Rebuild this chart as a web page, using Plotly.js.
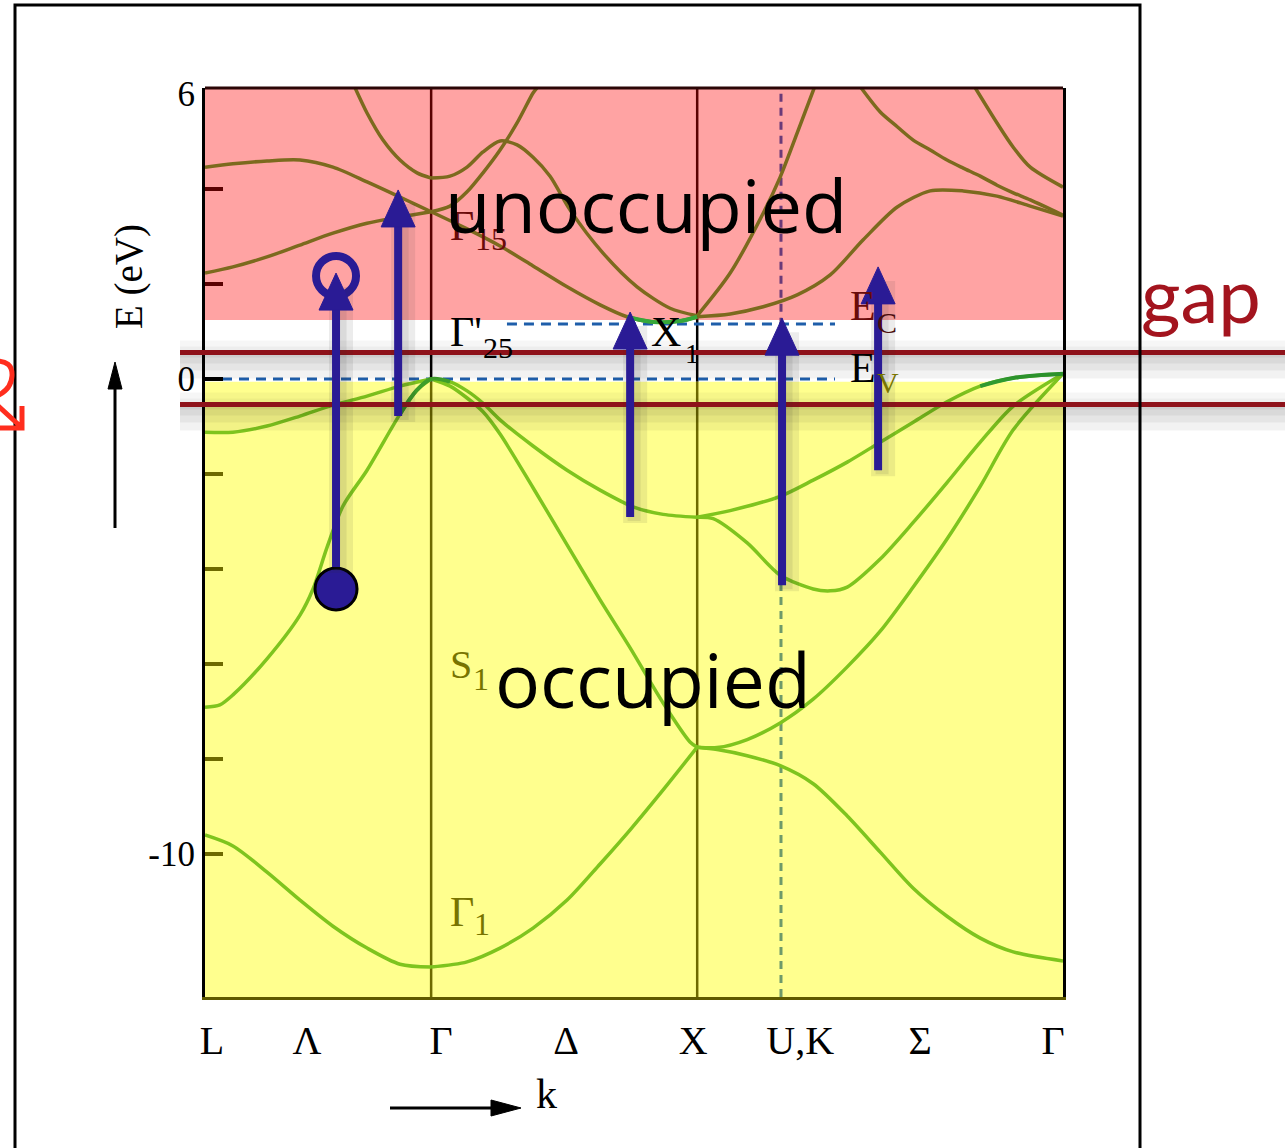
<!DOCTYPE html>
<html><head><meta charset="utf-8">
<script src="https://cdn.plot.ly/plotly-3.0.1.min.js"></script>
<style>html,body{margin:0;padding:0;background:#fff}#chart{width:1285px;height:1148px}</style>
</head><body><div id="chart"></div>
<script>
// ---- data (k along L-Γ-X-U,K-Γ path, Γ-X = 1 ; E in eV) ----
const kRange = [0, 3.225];
const eRange = [-13.01, 6.126];
const symBreaks = [0.85, 1.85];          // Γ, X (kinks)
const symSolid = [0.85, 1.85];           // solid vertical lines Γ, X
const symDashed = [2.165];               // U,K
const tickK = [0.026, 0.383, 0.887, 1.357, 1.835, 2.237, 2.688, 3.188];
const tickLabels = ['L', 'Λ', 'Γ', 'Δ', 'X', 'U,K', 'Σ', 'Γ'];
const yLabelVals = [6, 0, -10];
const yTicksLow = [-2, -4, -6, -8, -10];
const yTicksHigh = [4, 2];
const yTicksZero = [0];
const eV = 0, eC = 1.16;
const evDashK = [0, 2.368];
const ecDashK = [1.135, 2.368];
const condRegionFrom = 1.242, valRegionTo = -0.057;
const gapLines = [0.558, -0.537];

// conduction bands
const cbA_k = [0, 0.105, 0.233, 0.357, 0.481, 0.609, 0.733, 0.85, 0.985, 1.109, 1.233, 1.361, 1.485, 1.586, 1.684, 1.786, 1.85, 1.974, 2.098, 2.226, 2.35, 2.474, 2.602, 2.726, 2.85, 2.977, 3.102, 3.225];
const cbA_E = [2.23, 2.36, 2.57, 2.82, 3.07, 3.28, 3.41, 3.52, 3.16, 2.80, 2.38, 1.94, 1.56, 1.31, 1.20, 1.22, 1.31, 1.37, 1.52, 1.77, 2.19, 2.93, 3.62, 3.96, 3.96, 3.85, 3.64, 3.43];
const cbB_k = [0.564, 0.609, 0.669, 0.733, 0.797, 0.85, 0.921, 0.985, 1.045, 1.109, 1.173, 1.233, 1.297, 1.372, 1.496, 1.624, 1.748, 1.85, 1.974, 2.098, 2.162, 2.226, 2.29];
const cbB_E = [6.13, 5.60, 5.03, 4.61, 4.34, 4.23, 4.27, 4.46, 4.78, 5.01, 4.93, 4.67, 4.27, 3.56, 2.65, 1.94, 1.49, 1.33, 2.23, 3.49, 4.25, 5.18, 6.13];
const cbC_k = [0, 0.105, 0.233, 0.357, 0.481, 0.609, 0.733, 0.797, 0.85, 0.921, 0.985, 1.045, 1.109, 1.173, 1.233, 1.248];
const cbC_E = [4.46, 4.53, 4.59, 4.61, 4.46, 4.15, 3.83, 3.66, 3.52, 3.64, 3.94, 4.34, 4.82, 5.39, 6.02, 6.13];
const cbD_k = [2.466, 2.538, 2.602, 2.662, 2.726, 2.789, 2.85, 2.914, 2.977, 3.038, 3.102, 3.225];
const cbD_E = [6.13, 5.62, 5.31, 5.03, 4.82, 4.61, 4.44, 4.27, 4.08, 3.92, 3.77, 3.45];
const cbE_k = [2.895, 2.977, 3.038, 3.102, 3.225];
const cbE_E = [6.13, 5.39, 4.88, 4.46, 4.04];

// valence bands
const vbA_k = [0, 0.105, 0.233, 0.357, 0.481, 0.609, 0.733, 0.85, 0.985, 1.109, 1.233, 1.361, 1.485, 1.598, 1.722, 1.85, 1.925, 2.038, 2.162, 2.286, 2.414, 2.538, 2.662, 2.789, 2.914, 3.038, 3.225];
const vbA_E = [-9.60, -9.83, -10.38, -10.97, -11.52, -11.98, -12.32, -12.38, -12.27, -11.98, -11.56, -10.97, -10.21, -9.49, -8.65, -7.75, -7.80, -7.93, -8.14, -8.52, -9.20, -9.96, -10.72, -11.31, -11.77, -12.06, -12.25];
const vbB_k = [0, 0.056, 0.105, 0.233, 0.357, 0.406, 0.459, 0.519, 0.609, 0.733, 0.797, 0.85, 0.921, 0.985, 1.045, 1.109, 1.233, 1.361, 1.485, 1.598, 1.722, 1.823, 1.85, 1.925, 2.038, 2.162, 2.286, 2.414, 2.538, 2.662, 2.789, 2.914, 3.038, 3.225];
const vbB_E = [-6.91, -6.86, -6.65, -5.89, -4.97, -4.42, -3.54, -2.67, -1.92, -0.74, -0.23, 0, -0.15, -0.40, -0.69, -1.16, -2.29, -3.49, -4.65, -5.66, -6.82, -7.64, -7.75, -7.76, -7.59, -7.24, -6.74, -6.06, -5.31, -4.38, -3.37, -2.26, -1.07, 0.11];
const vbC_k = [0, 0.105, 0.233, 0.357, 0.481, 0.609, 0.733, 0.85, 0.921, 0.985, 1.045, 1.109, 1.233, 1.361, 1.485, 1.609, 1.722, 1.85, 1.91, 2.038, 2.162, 2.286, 2.35, 2.414, 2.538, 2.662, 2.789, 2.914, 3.038, 3.225];
const vbC_E = [-1.12, -1.12, -0.99, -0.78, -0.55, -0.36, -0.15, 0, -0.06, -0.25, -0.51, -0.86, -1.41, -1.92, -2.34, -2.69, -2.85, -2.91, -2.94, -3.45, -4.13, -4.42, -4.46, -4.38, -3.79, -3.02, -2.18, -1.33, -0.57, 0.11];
const vbD_k = [1.85, 1.974, 2.162, 2.286, 2.414, 2.538, 2.662, 2.789, 2.914, 3.038, 3.225];
const vbD_E = [-2.91, -2.77, -2.47, -2.13, -1.75, -1.33, -0.91, -0.48, -0.15, 0.02, 0.11];

// optical transitions (vertical arrows)
const arrowK = [0.4925, 0.726, 1.598, 2.169, 2.53];
const arrowFrom = [-3.96, -0.78, -2.905, -4.34, -1.92];
const arrowTo = [2.23, 3.98, 1.41, 1.28, 2.36];
const electronK = [0.4925], electronE = [-4.42];
const emptyK = [0.4925], emptyE = [2.17];

// ---- styling ----
const SERIF = 'Liberation Serif, Times New Roman, serif';
const SANS = 'Open Sans, Noto Sans, sans-serif';
const CB_COLOR = '#7C6A1E', VB_COLOR = '#7EC41E';
const DARKRED = '#6A0A0A', OLIVE = '#787400', BLUE = '#2A1B95';
const PL = 205, PT = 88, PW = 858, PH = 909;
const PX = p => (p - PL) / PW, PY = p => (PT + PH - p) / PH;
const pxK = px => px * (kRange[1] - kRange[0]) / PW;   // horizontal pixels -> k
const pxE = px => px * (eRange[1] - eRange[0]) / PH;   // vertical pixels -> eV

function segments(k, E) {
  const segs = []; let cur = {k: [], E: []};
  for (let i = 0; i < k.length; i++) {
    cur.k.push(k[i]); cur.E.push(E[i]);
    if (i > 0 && i < k.length - 1 && symBreaks.some(b => Math.abs(b - k[i]) < 1e-6)) {
      segs.push(cur); cur = {k: [k[i]], E: [E[i]]};
    }
  }
  segs.push(cur); return segs;
}
const traces = [];
function addBand(k, E, color, width) {
  segments(k, E).forEach(s => traces.push({
    x: s.k, y: s.E, mode: 'lines', type: 'scatter', hoverinfo: 'skip', showlegend: false,
    line: {color: color, width: width || 3.5, shape: 'spline', smoothing: 0.8}
  }));
}
[[cbA_k, cbA_E], [cbB_k, cbB_E], [cbC_k, cbC_E], [cbD_k, cbD_E], [cbE_k, cbE_E]].forEach(b => addBand(b[0], b[1], CB_COLOR));
[[vbA_k, vbA_E], [vbB_k, vbB_E], [vbC_k, vbC_E], [vbD_k, vbD_E]].forEach(b => addBand(b[0], b[1], VB_COLOR));

function pick(k, E, lo, hi) {
  const o = {k: [], E: []};
  k.forEach((v, i) => { if (v >= lo - 1e-9 && v <= hi + 1e-9) { o.k.push(v); o.E.push(E[i]); } });
  return o;
}
// highlighted band edges
const cbMin = pick(cbA_k, cbA_E, 1.58, 1.85);
traces.push({x: cbMin.k, y: cbMin.E, mode: 'lines', hoverinfo: 'skip', showlegend: false, line: {color: '#36A83A', width: 4, shape: 'spline'}});
const vtL1 = pick(vbB_k.slice(0, 12), vbB_E.slice(0, 12), 0.733, 0.85);
const vtL2 = pick(vbC_k.slice(7), vbC_E.slice(7), 0.85, 0.921);
traces.push({x: vtL1.k.concat(vtL2.k.slice(1)), y: vtL1.E.concat(vtL2.E.slice(1)), mode: 'lines', hoverinfo: 'skip', showlegend: false, line: {color: '#3E9E2A', width: 4, shape: 'spline'}});
const vtR = pick(vbD_k, vbD_E, 2.914, 3.225);
traces.push({x: vtR.k, y: vtR.E, mode: 'lines', hoverinfo: 'skip', showlegend: false, line: {color: '#2F9A30', width: 4, shape: 'spline'}});

// electron / empty state
traces.push({x: electronK, y: electronE, mode: 'markers', hoverinfo: 'skip', showlegend: false,
  marker: {size: 42, color: BLUE, line: {color: '#000', width: 3}}});
traces.push({x: emptyK, y: emptyE, mode: 'markers', hoverinfo: 'skip', showlegend: false,
  marker: {size: 40, color: 'rgba(0,0,0,0)', line: {color: BLUE, width: 8}}});
// dummy traces for tick-only axes
['y2', 'y3', 'y4'].forEach(a => traces.push({x: [null], y: [null], yaxis: a, mode: 'lines', hoverinfo: 'skip', showlegend: false}));

// ---- shapes ----
const shapes = [];
shapes.push({type: 'rect', xref: 'x', yref: 'y', x0: kRange[0], x1: kRange[1], y0: condRegionFrom, y1: eRange[1], fillcolor: '#FFA3A3', line: {width: 0}, layer: 'below'});
shapes.push({type: 'rect', xref: 'x', yref: 'y', x0: kRange[0], x1: kRange[1], y0: eRange[0], y1: valRegionTo, fillcolor: '#FFFF8E', line: {width: 0}, layer: 'below'});
symSolid.forEach(k => {
  shapes.push({type: 'line', xref: 'x', yref: 'y', x0: k, x1: k, y0: condRegionFrom, y1: eRange[1], line: {color: '#5A0202', width: 2.5}, layer: 'below'});
  shapes.push({type: 'line', xref: 'x', yref: 'y', x0: k, x1: k, y0: valRegionTo, y1: condRegionFrom, line: {color: '#000', width: 2.5}, layer: 'below'});
  shapes.push({type: 'line', xref: 'x', yref: 'y', x0: k, x1: k, y0: eRange[0], y1: valRegionTo, line: {color: '#6E6A00', width: 2.5}, layer: 'below'});
});
symDashed.forEach(k => {
  shapes.push({type: 'line', xref: 'x', yref: 'y', x0: k, x1: k, y0: valRegionTo, y1: eRange[1], line: {color: '#6A3A78', width: 3, dash: '8px,6px'}, layer: 'below'});
  shapes.push({type: 'line', xref: 'x', yref: 'y', x0: k, x1: k, y0: eRange[0], y1: valRegionTo, line: {color: '#6E9A6A', width: 3, dash: '8px,6px'}, layer: 'below'});
});
shapes.push({type: 'line', xref: 'x', yref: 'y', x0: evDashK[0], x1: evDashK[1], y0: eV, y1: eV, line: {color: '#1E5EAA', width: 3, dash: '10px,7px'}, layer: 'below'});
shapes.push({type: 'line', xref: 'x', yref: 'y', x0: ecDashK[0], x1: ecDashK[1], y0: eC, y1: eC, line: {color: '#1E5EAA', width: 3, dash: '10px,7px'}, layer: 'below'});
// gap lines with soft shadow
gapLines.forEach(e => {
  [[26, 0.05], [18, 0.05], [11, 0.05], [5, 0.05]].forEach(s => shapes.push({type: 'rect', xref: 'paper', yref: 'y', x0: PX(180), x1: PX(1290), y0: e - pxE(s[0]), y1: e, fillcolor: 'rgba(0,0,0,' + s[1] + ')', line: {width: 0}, layer: 'above'}));
  [[12, 0.035], [6, 0.035]].forEach(s => shapes.push({type: 'rect', xref: 'paper', yref: 'y', x0: PX(180), x1: PX(1290), y0: e, y1: e + pxE(s[0]), fillcolor: 'rgba(0,0,0,' + s[1] + ')', line: {width: 0}, layer: 'above'}));
  shapes.push({type: 'line', xref: 'paper', yref: 'y', x0: PX(180), x1: PX(1290), y0: e, y1: e, line: {color: '#8E121A', width: 5}, layer: 'above'});
});
// transition arrows: soft shadow, stem and triangular head
const headHalfW = pxK(17), headLen = pxE(37);
arrowK.forEach((k, i) => {
  const t = arrowTo[i], f = arrowFrom[i];
  shapes.push({type: 'line', xref: 'x', yref: 'y', x0: k + pxK(5), x1: k + pxK(5), y0: f - pxE(6), y1: t - pxE(14), line: {color: 'rgba(40,40,40,0.09)', width: 24}, layer: 'above'});
  shapes.push({type: 'line', xref: 'x', yref: 'y', x0: k + pxK(4), x1: k + pxK(4), y0: f - pxE(4), y1: t - pxE(24), line: {color: 'rgba(40,40,40,0.09)', width: 13}, layer: 'above'});
  shapes.push({type: 'line', xref: 'x', yref: 'y', x0: k, x1: k, y0: f, y1: t - headLen * 0.8, line: {color: BLUE, width: 8}, layer: 'above'});
  shapes.push({type: 'path', xref: 'x', yref: 'y', path: 'M' + (k - headHalfW) + ',' + (t - headLen) + ' L' + (k + headHalfW) + ',' + (t - headLen) + ' L' + k + ',' + t + ' Z',
    fillcolor: BLUE, line: {color: BLUE, width: 1}, layer: 'above'});
});
// top border of plot and outer frame
shapes.push({type: 'line', xref: 'paper', yref: 'paper', x0: 0, x1: 1, y0: 1, y1: 1, line: {color: '#2B0606', width: 3}, layer: 'above'});
shapes.push({type: 'rect', xref: 'paper', yref: 'paper', x0: PX(15), x1: PX(1140), y0: PY(1220), y1: PY(5), line: {color: '#000', width: 3}, fillcolor: 'rgba(0,0,0,0)', layer: 'above'});
const P = (x, y) => PX(x) + ',' + PY(y);
// axis direction arrows (E up, k right)
shapes.push({type: 'line', xref: 'paper', yref: 'paper', x0: PX(115), x1: PX(115), y0: PY(528), y1: PY(385), line: {color: '#000', width: 3}, layer: 'above'});
shapes.push({type: 'path', xref: 'paper', yref: 'paper', path: 'M' + P(108, 389) + ' L' + P(122, 389) + ' L' + P(115, 362) + ' Z', fillcolor: '#000', line: {color: '#000', width: 1}, layer: 'above'});
shapes.push({type: 'line', xref: 'paper', yref: 'paper', x0: PX(390), x1: PX(495), y0: PY(1108), y1: PY(1108), line: {color: '#000', width: 3}, layer: 'above'});
shapes.push({type: 'path', xref: 'paper', yref: 'paper', path: 'M' + P(491, 1100) + ' L' + P(491, 1116) + ' L' + P(521, 1108) + ' Z', fillcolor: '#000', line: {color: '#000', width: 1}, layer: 'above'});
// partial red photon squiggle at left edge
shapes.push({type: 'path', xref: 'paper', yref: 'paper', path: 'M' + P(-6, 361) + ' Q' + P(13, 360) + ' ' + P(12, 376) + ' Q' + P(11, 391) + ' ' + P(-6, 397) + ' M' + P(-4, 404) + ' L' + P(20, 426) + ' M' + P(22, 406) + ' L' + P(22, 428) + ' L' + P(-2, 428), line: {color: '#FF2E1E', width: 5}, layer: 'above'});

// ---- annotations (text only) ----
const ann = [];
function txt(t, x, y, size, color, family, extra) {
  ann.push(Object.assign({text: t, xref: 'paper', yref: 'paper', x: PX(x), y: PY(y), xanchor: 'center', yanchor: 'middle', showarrow: false,
    font: {family: family || SERIF, size: size, color: color}}, extra || {}));
}
txt('Γ', 462, 226, 42, DARKRED); txt('15', 491, 239, 32, DARKRED);
txt("Γ'", 466, 332, 42, '#000'); txt('25', 498, 347, 30, '#000');
txt('X', 666, 332, 42, '#000'); txt('1', 692, 353, 28, '#000');
txt('E', 863, 306, 42, DARKRED); txt('C', 887, 322, 30, '#4A0C0C');
txt('E', 863, 368, 42, '#000'); txt('V', 888, 382, 30, OLIVE);
txt('S', 461, 664, 40, OLIVE); txt('1', 481, 679, 32, OLIVE);
txt('Γ', 462, 912, 42, OLIVE); txt('1', 482, 924, 32, OLIVE);
txt('unoccupied', 646, 204, 74, '#000', SANS);
txt('occupied', 653, 679, 75, '#000', SANS);
txt('gap', 1201, 293, 76, '#A3141E', 'Lato, sans-serif');
txt('E (eV)', 129, 277, 39, '#000', SERIF, {textangle: -90});
txt('k', 546, 1094, 42, '#000');

const tickAxis = (vals, color) => ({overlaying: 'y', anchor: 'x', side: 'left', range: eRange, tickvals: vals, ticks: 'inside', ticklen: 18, tickwidth: 4, tickcolor: color,
  showticklabels: false, showline: false, showgrid: false, zeroline: false, fixedrange: true, automargin: false});

const layout = {
  width: 1285, height: 1148,
  margin: {l: PL, r: 1285 - PL - PW, t: PT, b: 1148 - PT - PH, pad: 0},
  paper_bgcolor: '#ffffff', plot_bgcolor: '#ffffff', showlegend: false,
  xaxis: {range: kRange, tickvals: tickK, ticktext: tickLabels, ticks: 'outside', ticklen: 6, tickcolor: 'rgba(0,0,0,0)', tickangle: 0,
    tickfont: {family: SERIF, size: 40, color: '#000'}, showgrid: false, zeroline: false, showline: true, linecolor: '#5F5A00', linewidth: 3,
    mirror: false, fixedrange: true, automargin: false},
  yaxis: {range: eRange, tickvals: yLabelVals, ticktext: yLabelVals.map(String), ticks: '', tickfont: {family: SERIF, size: 35, color: '#000'},
    showgrid: false, zeroline: false, showline: true, linecolor: '#000', linewidth: 3, mirror: true, fixedrange: true, automargin: false},
  yaxis2: tickAxis(yTicksLow, '#6E6A00'),
  yaxis3: tickAxis(yTicksHigh, '#5A0202'),
  yaxis4: tickAxis(yTicksZero, '#000'),
  shapes: shapes, annotations: ann
};
Plotly.newPlot('chart', traces, layout, {staticPlot: true, displayModeBar: false});
</script></body></html>
